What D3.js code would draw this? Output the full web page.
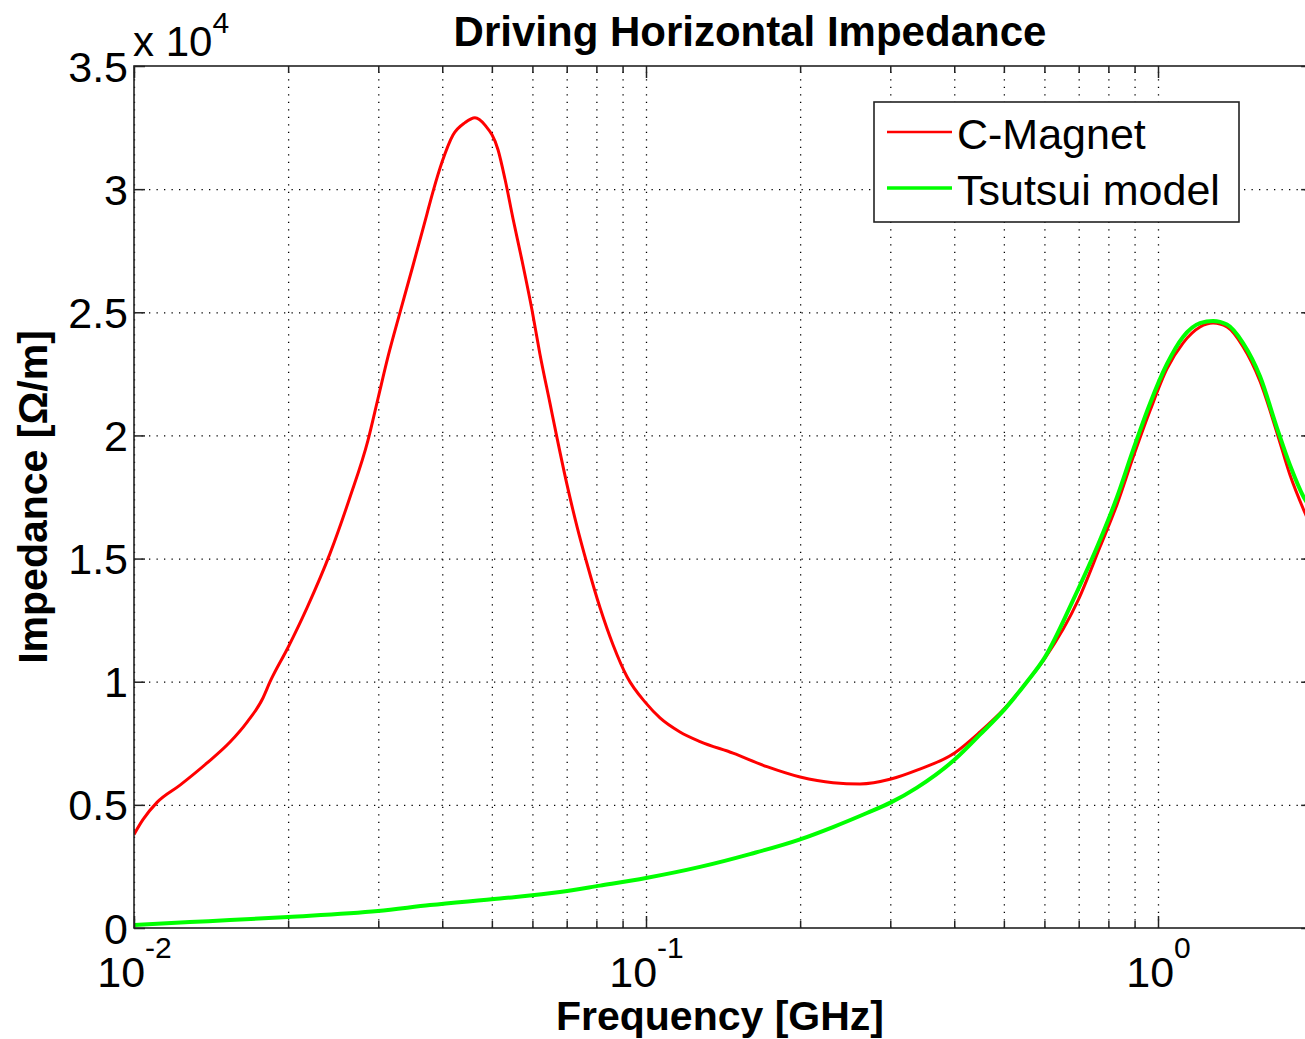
<!DOCTYPE html>
<html><head><meta charset="utf-8">
<script src="https://cdn.jsdelivr.net/npm/d3@7"></script>
<style>
html,body{margin:0;padding:0;background:#fff;}
svg{display:block;font-family:"Liberation Sans",Arial,Helvetica,sans-serif;}
</style></head>
<body>
<svg id="chart" width="1305" height="1039"></svg>
<script>
// ---- data (frequency in GHz, impedance in units of 1e4 Ohm/m) ----
const title = "Driving Horizontal Impedance";
const xLabel = "Frequency [GHz]";
const yLabel = "Impedance [\u03A9/m]";
const seriesNames = ["C-Magnet", "Tsutsui model"];
const seriesColors = ["#ff0000", "#00ff00"];

const cMagnetFreq = [0.01,0.01041,0.01109,0.0123,0.01389,0.0154,0.01663,0.01786,0.01844,0.02,0.02177,0.02414,0.02642,0.02864,0.02996,0.03134,0.03308,0.03507,0.03735,0.03837,0.03996,0.04198,0.04431,0.04634,0.04848,0.0514,0.05305,0.05499,0.05726,0.05988,0.06207,0.06494,0.06702,0.0701,0.07333,0.07668,0.08133,0.08621,0.09182,0.1,0.1065,0.1165,0.1275,0.1479,0.1723,0.2,0.2319,0.2618,0.3009,0.3383,0.4013,0.449,0.5025,0.5548,0.6016,0.698,0.7704,0.8318,0.8938,0.9647,1.041,1.119,1.208,1.281,1.364,1.466,1.582,1.708,1.81,1.937,2.0];
const cMagnetZ    = [0.38,0.44,0.51,0.58,0.67,0.755,0.836,0.934,1.0,1.14,1.30,1.52,1.75,1.98,2.15,2.32,2.50,2.69,2.90,2.99,3.11,3.22,3.27,3.29,3.26,3.16,3.04,2.88,2.71,2.51,2.33,2.13,1.99,1.80,1.63,1.48,1.30,1.15,1.02,0.913,0.853,0.796,0.757,0.710,0.655,0.613,0.590,0.585,0.605,0.641,0.712,0.796,0.893,1.0,1.096,1.33,1.547,1.72,1.91,2.10,2.27,2.375,2.44,2.456,2.44,2.36,2.22,2.01,1.84,1.685,1.62];

const tsutsuiFreq = [0.01,0.01286,0.0154,0.02,0.02996,0.03786,0.05186,0.06792,0.08133,0.1,0.1275,0.1596,0.2,0.2319,0.2701,0.3009,0.3383,0.4013,0.449,0.5025,0.5548,0.6016,0.6823,0.7704,0.8318,0.8938,0.9647,1.041,1.119,1.208,1.281,1.364,1.466,1.582,1.708,1.81,1.937,2.0];
const tsutsuiZ    = [0.012,0.024,0.032,0.045,0.069,0.093,0.12,0.146,0.172,0.203,0.248,0.300,0.360,0.41,0.467,0.51,0.570,0.685,0.785,0.89,1.0,1.10,1.33,1.575,1.75,1.94,2.13,2.29,2.40,2.456,2.465,2.45,2.375,2.24,2.03,1.88,1.74,1.70];

const xDomain = [0.01, 2];
const yDomain = [0, 3.5];
const xMajorTicks = [0.01, 0.1, 1];
const xMajorExponents = ["-2", "-1", "0"];
const yTicks = [0, 0.5, 1, 1.5, 2, 2.5, 3, 3.5];
const yTickLabels = ["0", "0.5", "1", "1.5", "2", "2.5", "3", "3.5"];
const yMultiplierExp = "4";

// ---- layout ----
const svg = d3.select("#chart");
const L = 134, T = 66, B = 928;
const R = L + 512 * Math.log10(xDomain[1] / xDomain[0]);
const x = d3.scaleLog().domain(xDomain).range([L, R]);
const y = d3.scaleLinear().domain(yDomain).range([B, T]);
const plotH = B - T, plotW = R - L;
const allXTicks = x.ticks();

// grid
const gridStyle = g => {
  g.select(".domain").remove();
  g.selectAll(".tick line").attr("stroke", "#000").attr("stroke-width", 1.3).attr("stroke-dasharray", "1.3,6.2");
};
svg.append("g").attr("transform", `translate(0,${B})`)
  .call(d3.axisBottom(x).tickValues(allXTicks).tickSize(-plotH).tickFormat(""))
  .call(gridStyle);
svg.append("g").attr("transform", `translate(${L},0)`)
  .call(d3.axisLeft(y).tickValues(yTicks.slice(1, -1)).tickSize(-plotW).tickFormat(""))
  .call(gridStyle);

// clip
svg.append("clipPath").attr("id", "clip").append("rect")
  .attr("x", L).attr("y", T).attr("width", plotW).attr("height", plotH);

const line = d3.line().x(d => x(d[0])).y(d => y(d[1])).curve(d3.curveMonotoneX);
const series = [d3.zip(cMagnetFreq, cMagnetZ), d3.zip(tsutsuiFreq, tsutsuiZ)];
const widths = [3, 4];
series.forEach((s, i) => {
  svg.append("path").datum(s).attr("clip-path", "url(#clip)")
    .attr("fill", "none").attr("stroke", seriesColors[i]).attr("stroke-width", widths[i])
    .attr("stroke-linejoin", "round").attr("d", line);
});

// axes (ticks inward)
const axStyle = g => {
  g.select(".domain").remove();
  g.selectAll(".tick line").attr("stroke", "#222").attr("stroke-width", 1.5);
};
const minorX = allXTicks.filter(v => !xMajorTicks.some(m => Math.abs(m - v) < 1e-9));
svg.append("g").attr("transform", `translate(0,${B})`)
  .call(d3.axisBottom(x).tickValues(minorX).tickSize(-7).tickFormat("")).call(axStyle);
svg.append("g").attr("transform", `translate(0,${T})`)
  .call(d3.axisTop(x).tickValues(minorX).tickSize(-7).tickFormat("")).call(axStyle);
svg.append("g").attr("transform", `translate(0,${T})`)
  .call(d3.axisTop(x).tickValues(xMajorTicks).tickSize(-12).tickFormat("")).call(axStyle);
const xMaj = svg.append("g").attr("transform", `translate(0,${B})`)
  .call(d3.axisBottom(x).tickValues(xMajorTicks).tickSize(-12).tickFormat("")).call(axStyle);
xMaj.selectAll(".tick").each(function(d, i) {
  const t = d3.select(this).append("text").attr("fill", "#000").attr("font-size", 43)
    .attr("text-anchor", "middle").attr("y", 59).attr("x", 0);
  t.append("tspan").text("10");
  t.append("tspan").attr("font-size", 30).attr("dy", -29).text(xMajorExponents[i]);
});
const yAx = svg.append("g").attr("transform", `translate(${L},0)`)
  .call(d3.axisLeft(y).tickValues(yTicks).tickSize(-11).tickPadding(6).tickFormat((d, i) => yTickLabels[i]))
  .call(axStyle);
yAx.selectAll(".tick text").attr("font-size", 43).attr("fill", "#000").attr("dy", "0.35em")
  .attr("font-family", "Liberation Sans, Arial, sans-serif");
svg.append("g").attr("transform", `translate(${R},0)`)
  .call(d3.axisRight(y).tickValues(yTicks).tickSize(-11).tickFormat("")).call(axStyle);

// frame
svg.append("rect").attr("x", L).attr("y", T).attr("width", plotW).attr("height", plotH)
  .attr("fill", "none").attr("stroke", "#222").attr("stroke-width", 1.6);

// multiplier
const mult = svg.append("text").attr("x", 133).attr("y", 56).attr("font-size", 42).attr("fill", "#000");
mult.append("tspan").text("x 10");
mult.append("tspan").attr("font-size", 30).attr("dy", -23).text(yMultiplierExp);

// title & labels
svg.append("text").attr("x", 750).attr("y", 46).attr("text-anchor", "middle")
  .attr("font-size", 42).attr("font-weight", "bold").text(title);
svg.append("text").attr("x", 720).attr("y", 1030).attr("text-anchor", "middle")
  .attr("font-size", 41).attr("font-weight", "bold").text(xLabel);
svg.append("text").attr("transform", "translate(47,497) rotate(-90)").attr("text-anchor", "middle")
  .attr("font-size", 41).attr("font-weight", "bold").text(yLabel);

// legend
const lg = svg.append("g");
lg.append("rect").attr("x", 874).attr("y", 102).attr("width", 365).attr("height", 120)
  .attr("fill", "#fff").attr("stroke", "#222").attr("stroke-width", 1.6);
const legY = [132, 188];
seriesNames.forEach((n, i) => {
  lg.append("line").attr("x1", 887).attr("x2", 952).attr("y1", legY[i]).attr("y2", legY[i])
    .attr("stroke", seriesColors[i]).attr("stroke-width", widths[i] - 0.5);
  lg.append("text").attr("x", 957).attr("y", legY[i] + 17).attr("font-size", 43).text(n);
});
</script>
</body></html>
